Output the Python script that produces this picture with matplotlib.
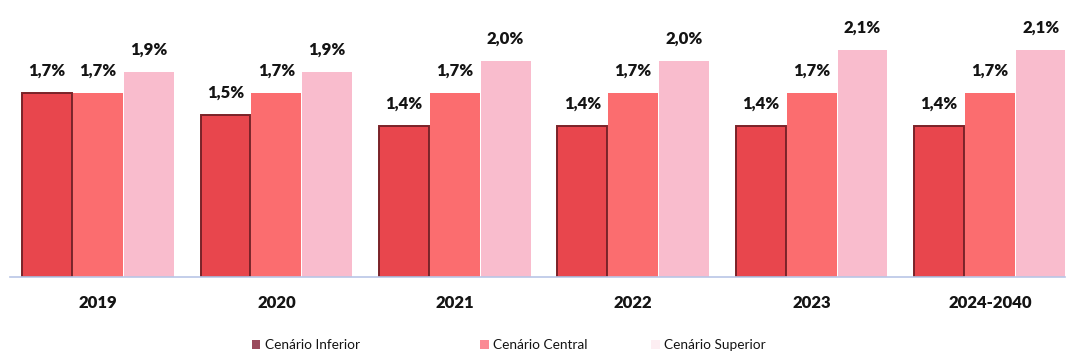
import matplotlib.pyplot as plt
from matplotlib.patches import Patch
import numpy as np

plt.rcParams['font.family'] = ['Lato', 'DejaVu Sans']

anos = ['2019', '2020', '2021', '2022', '2023', '2024-2040']
inferior = [1.7, 1.5, 1.4, 1.4, 1.4, 1.4]
central = [1.7, 1.7, 1.7, 1.7, 1.7, 1.7]
superior = [1.9, 1.9, 2.0, 2.0, 2.1, 2.1]
series = ['Cenário Inferior', 'Cenário Central', 'Cenário Superior']

cores = ['#e8464d', '#fb6d6f', '#f9bccd']
bordas = ['#7a2228', 'none', 'none']
cores_legenda = ['#9a4a5c', '#fb8a94', '#fdeef2']
# posição horizontal (fração da figura) de cada item da legenda
legenda_x = [0.229, 0.443, 0.603]

fig = plt.figure(figsize=(10.69, 3.58), dpi=100)
ax = fig.add_axes([10 / 1069, 81 / 358, 1055 / 1069, 270 / 358])

x = np.arange(len(anos))
w = 0.285
for k, vals in enumerate([inferior, central, superior]):
    pos = x + (k - 1) * w
    ax.bar(pos, vals, width=w * 0.98, color=cores[k], edgecolor=bordas[k],
           linewidth=1.4 if k == 0 else 0, zorder=2)
    for xp, v in zip(pos, vals):
        ax.annotate(f'{v:.1f}%'.replace('.', ','), (xp, v), xytext=(0, 16),
                    textcoords='offset points', ha='center', va='center',
                    fontsize=12, fontweight='heavy', color='#141414')

ax.set_xlim(-0.493, 5.42)
ax.set_ylim(0, 2.5)
ax.set_xticks(x)
ax.set_xticklabels(anos, fontsize=12, fontweight='heavy', color='#141414')
ax.tick_params(axis='x', length=0, pad=13)
ax.set_yticks([])
for s in ['top', 'right', 'left']:
    ax.spines[s].set_visible(False)
ax.spines['bottom'].set_color('#b9c6e6')
ax.spines['bottom'].set_linewidth(1.2)

for nome, cor, lx in zip(series, cores_legenda, legenda_x):
    fig.legend([Patch(facecolor=cor, edgecolor='none')], [nome], loc='center left',
               bbox_to_anchor=(lx, 0.035), frameon=False, fontsize=9.8,
               handlelength=0.6, handleheight=0.6, handletextpad=0.35,
               borderpad=0, labelcolor='#141414')

fig.savefig('out.png', dpi=100)
